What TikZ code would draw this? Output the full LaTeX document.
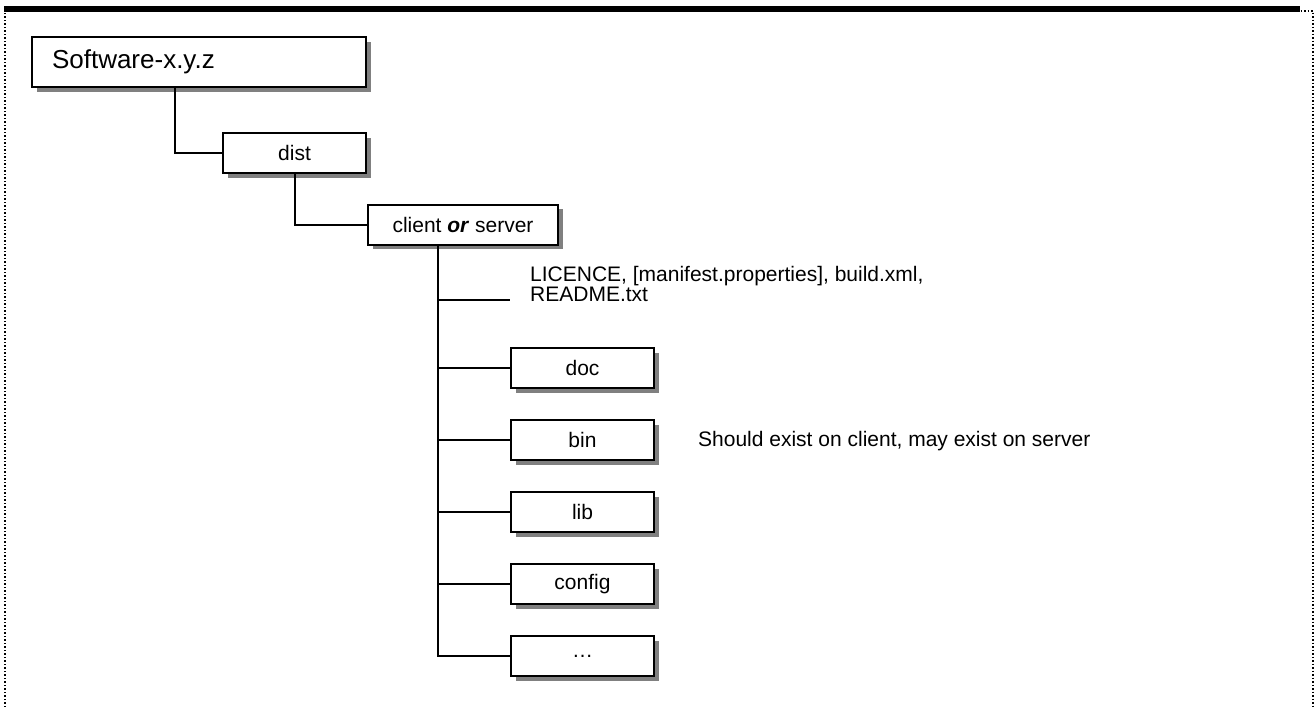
\documentclass[tikz,border=0pt]{standalone}
\usepackage{fontspec}
\setmainfont{Liberation Sans}
\usetikzlibrary{shadows,calc}

\begin{document}
\begin{tikzpicture}[x=1pt,y=-1pt,% ------ Arborescence -----------------
    dirbox/.style={draw,line width=2pt,fill=white,minimum height=40pt,
      drop shadow={shadow xshift=4.5pt,shadow yshift=-4.5pt,fill=black!50,opacity=1}},
    link/.style={line width=2pt},
    every node/.style={font=\fontsize{21}{20}\selectfont}]
  \useasboundingbox (0,0) rectangle (1315,707);
  \draw [line width=1.5pt, dash pattern=on 1.5pt off 2pt] (5,707)--(5,11)--(1313,11)--(1313,707);
  \draw [line width=5.5pt] (4,8.8)--(1300,8.8);
  \node [dirbox, minimum width=334pt, minimum height=50pt, text width=294pt, inner xsep=20pt,
    align=left, font=\fontsize{26}{26}\selectfont] (soft) at (199,62) {Software-x.y.z};
  \node [dirbox, minimum width=143pt] (dist) at (294.5,153) {dist};
  \node [dirbox, minimum width=190pt] (client) at (463,224.5) {client \textbf{\textit{or}} server};
  \foreach \name/\txt/\y in {doc/doc/368, bin/bin/440, lib/lib/512, config/config/584, more/…/656}
    \node [dirbox, minimum width=143pt] (\name) at (582.5,\y) {\txt};
  \node [anchor=west, align=left, inner sep=0pt] (files) at (530,284)
    {LICENCE, [manifest.properties], build.xml,\\README.txt};
  \node [anchor=west, inner sep=0pt] (note) at (698,441) {Should exist on client, may exist on server};
  \coordinate (trunk) at ($(client.south west)+(71,0)$);
  \coordinate (filesend) at (510,300);
  \draw [link] ($(soft.south west)+(144,0)$) |- (dist.west);
  \draw [link] (dist.south) |- (client.west);
  \draw [link] (trunk) |- (filesend);
  \foreach \name in {doc,bin,lib,config,more}
    \draw [link] (trunk) |- (\name.west);
\end{tikzpicture}
\end{document}
